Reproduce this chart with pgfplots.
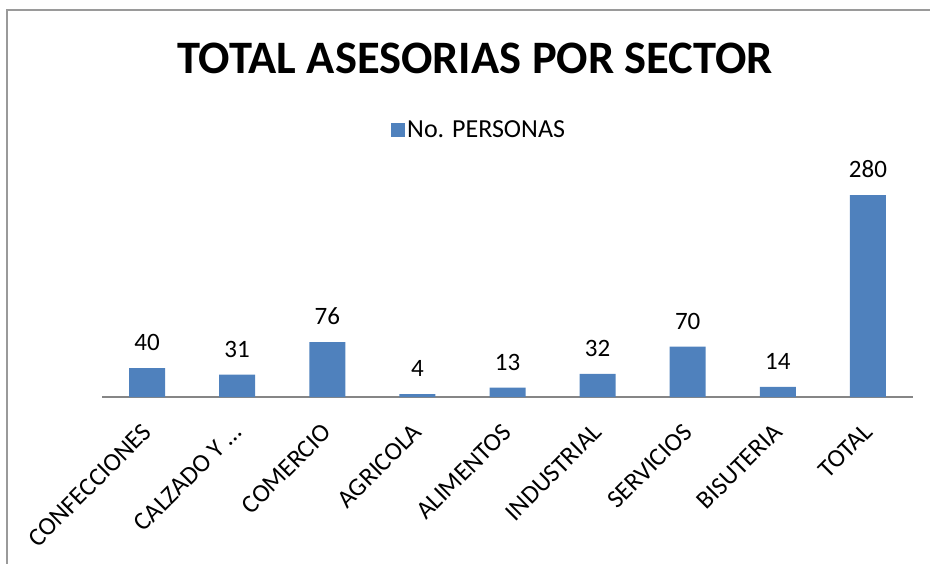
\documentclass[border=0pt]{standalone}
\usepackage{fontspec}
\setmainfont{Carlito}
\usepackage{pgfplots}
\pgfplotsset{compat=1.18}
\definecolor{barblue}{HTML}{4F81BD}
\definecolor{framegray}{HTML}{9A9A9A}
\definecolor{axisgray}{HTML}{868686}
\begin{document}
\begin{tikzpicture}[x=1pt,y=1pt]
\useasboundingbox (0,0) rectangle (930,563);
\draw[framegray, line width=2pt] (7,-2) -- (7,553) -- (932,553);
\begin{axis}[
    at={(102pt,166pt)}, anchor=south west,
    scale only axis, width=811pt, height=216.4pt,
    xmin=-0.5, xmax=8.5, ymin=0, ymax=300,
    axis x line*=bottom, axis y line=none,
    x axis line style={axisgray, line width=2pt, -},
    xtick={0,...,8},
    xticklabels={CONFECCIONES,CALZADO Y …,COMERCIO,AGRICOLA,ALIMENTOS,INDUSTRIAL,SERVICIOS,BISUTERIA,TOTAL},
    major tick length=0pt,
    xticklabel style={font=\fontsize{25.5}{25.5}\selectfont, yshift=-31pt, rotate=45, anchor=east, inner sep=0pt},
    title={TOTAL ASESORIAS POR SECTOR},
    title style={font=\fontsize{46.5}{46.5}\selectfont\bfseries, at={(axis description cs:0.46,1.535)}, anchor=center},
    legend style={at={(axis description cs:0.465,1.234)}, anchor=center, draw=none, fill=none,
        font=\fontsize{26}{26}\selectfont},
    legend image code/.code={\fill[#1] (0pt,-7pt) rectangle (14pt,7pt);},
    /pgf/number format/assume math mode=true,
    nodes near coords,
    every node near coord/.append style={font=\fontsize{25}{25}\selectfont, anchor=south, inner sep=0pt, yshift=17pt, black},
]
\addplot[ybar, bar width=36pt, fill=barblue, draw=none] coordinates {
    (0,40) (1,31) (2,76) (3,4) (4,13) (5,32) (6,70) (7,14) (8,280)
};
\addlegendentry{No. PERSONAS}
\end{axis}
\end{tikzpicture}
\end{document}
